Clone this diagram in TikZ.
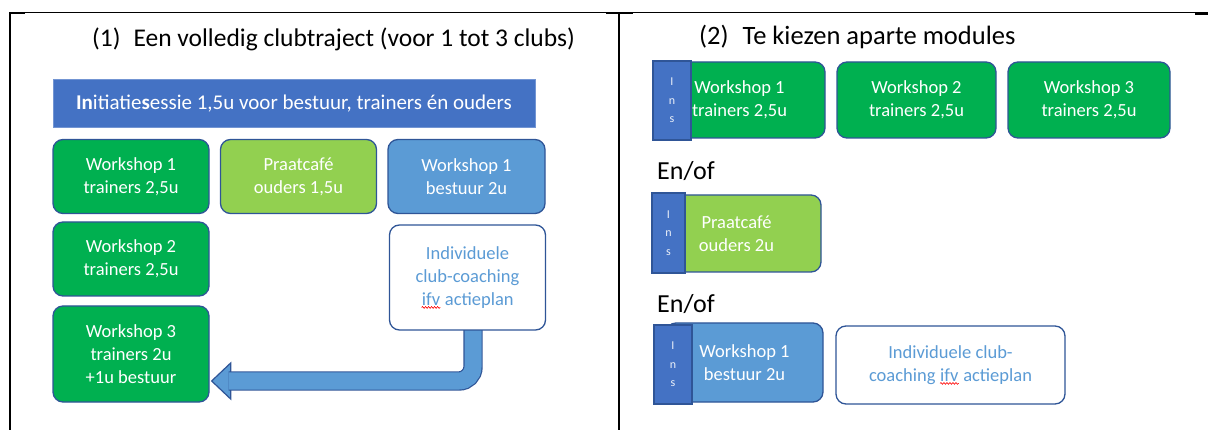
\documentclass[tikz,border=0pt]{standalone}
\usepackage{fontspec}
\setmainfont{Carlito}
\usepackage{tikz}
\usetikzlibrary{backgrounds,decorations.pathmorphing}

\definecolor{wsgreen}{HTML}{00B050}
\definecolor{pcgreen}{HTML}{92D050}
\definecolor{bsblue}{HTML}{5B9BD5}
\definecolor{inblue}{HTML}{4472C4}
\definecolor{edgeblue}{HTML}{2F5597}

\newcommand\redwave[1]{\tikz[baseline=(w.base)]{\node[inner sep=0pt, minimum width=0pt,
  minimum height=0pt, draw=none, fill=none, sharp corners, text=bsblue] (w) {#1};
  \draw[red, line width=0.6pt, sharp corners, decorate, decoration={snake, amplitude=0.9pt, segment length=3pt}]
  ([yshift=-2pt]w.south west) -- ([yshift=-2pt]w.south east);}}

\tikzset{
  module/.style={rectangle, rounded corners=10pt, draw=edgeblue, line width=1.3pt,
    text=white, align=center, inner sep=0pt, font=\fontsize{18.5}{23}\selectfont},
  coach/.style={module, fill=white, text=bsblue},
  insbar/.style={rectangle, fill=inblue, draw=edgeblue, line width=1.2pt, inner sep=0pt,
    text=white!90!inblue, align=center, font=\fontsize{12}{18.5}\selectfont},
  heading/.style={font=\fontsize{25.5}{30}\selectfont, inner sep=0pt, anchor=west},
  shaft/.style={draw=edgeblue, line width=1.2pt, double=bsblue, double distance=17pt,
    rounded corners=14pt},
  head/.style={fill=bsblue, draw=edgeblue, line width=1.2pt, line join=miter}
}

\begin{document}
\begin{tikzpicture}[x=1pt,y=-1pt]
\useasboundingbox (0,0) rectangle (1208,430);
\draw[line width=1pt] (9,13) -- (1208,13);
\draw[line width=2pt] (9,13.5) -- (25,13.5);
\draw[line width=2pt] (606,13.5) -- (633,13.5);
\draw[line width=2pt] (1195,14) -- (1208,14);
\draw[line width=2pt] (9.5,12.5) -- (9.5,430);
\draw[line width=2pt] (619,13) -- (619,430);

\node[heading] (title1) at (92,39) {(1)\hspace{13pt}Een volledig clubtraject (voor 1 tot 3 clubs)};
\node[rectangle, fill=inblue, draw=inblue!75!white, line width=1pt, minimum width=482pt,
  minimum height=48pt, text=white, font=\fontsize{21}{24}\selectfont] (init) at (294,104)
  {\textbf{In}itiatie\textbf{s}essie 1,5u voor bestuur, trainers én ouders};
\node[module, fill=wsgreen, minimum width=156pt, minimum height=74pt] (ws1t) at (131,176.5)
  {Workshop 1\\trainers 2,5u};
\node[module, fill=pcgreen, minimum width=156pt, minimum height=74pt] (cafe) at (298.5,176.5)
  {Praatcafé\\ouders 1,5u};
\node[module, fill=bsblue, minimum width=157pt, minimum height=74pt] (ws1b) at (466.5,176.5)
  {Workshop 1\\bestuur 2u};
\node[module, fill=wsgreen, minimum width=156pt, minimum height=74pt] (ws2t) at (131,259)
  {Workshop 2\\trainers 2,5u};
\node[coach, minimum width=156pt, minimum height=105pt] (coach) at (467.5,277.5)
  {Individuele\\club-coaching\\\redwave{ifv} actieplan};
\node[module, fill=wsgreen, minimum width=156pt, minimum height=96pt] (ws3t) at (131,354)
  {Workshop 3\\trainers 2u\\+1u bestuur};
\coordinate (tip) at ([xshift=2pt,yshift=-27pt]ws3t.east);
\begin{pgfonlayer}{background}
\filldraw[head] (tip) -- ++(19,-18) -- ++(0,36) -- cycle;
\draw[shaft] ([xshift=5.5pt,yshift=4pt]coach.south) |- ([xshift=17pt]tip);
\end{pgfonlayer}

\node[heading, font=\fontsize{26.5}{30}\selectfont] (title2) at (699,37) {(2)\hspace{14pt}Te kiezen aparte modules};
\node[module, fill=wsgreen, minimum width=171pt, minimum height=76pt] (mod1) at (739.5,100)
  {Workshop 1\\trainers 2,5u};
\node[insbar, minimum width=38pt, minimum height=79pt] (ins1) at (672,100.5) {I\\n\\s};
\node[module, fill=wsgreen, minimum width=159pt, minimum height=76pt] (mod2) at (916.5,100)
  {Workshop 2\\trainers 2,5u};
\node[module, fill=wsgreen, minimum width=162pt, minimum height=76pt] (mod3) at (1089,100)
  {Workshop 3\\trainers 2,5u};
\node[heading, font=\fontsize{26}{30}\selectfont] (or1) at (657,171) {En/of};
\node[module, fill=pcgreen, minimum width=169pt, minimum height=77pt] (mod4) at (736.5,233.5)
  {Praatcafé\\ouders 2u};
\node[insbar, minimum width=33pt, minimum height=80pt] (ins4) at (668.5,233) {I\\n\\s};
\node[heading, font=\fontsize{26}{30}\selectfont] (or2) at (657,304) {En/of};
\node[module, fill=bsblue, minimum width=157pt, minimum height=79pt] (mod5) at (744.5,362.5)
  {Workshop 1\\bestuur 2u};
\node[insbar, minimum width=38pt, minimum height=79pt] (ins5) at (673,364.5) {I\\n\\s};
\node[coach, minimum width=229pt, minimum height=78pt] (mod6) at (950.5,365)
  {Individuele club-\\coaching \redwave{ifv} actieplan};
\end{tikzpicture}
\end{document}
